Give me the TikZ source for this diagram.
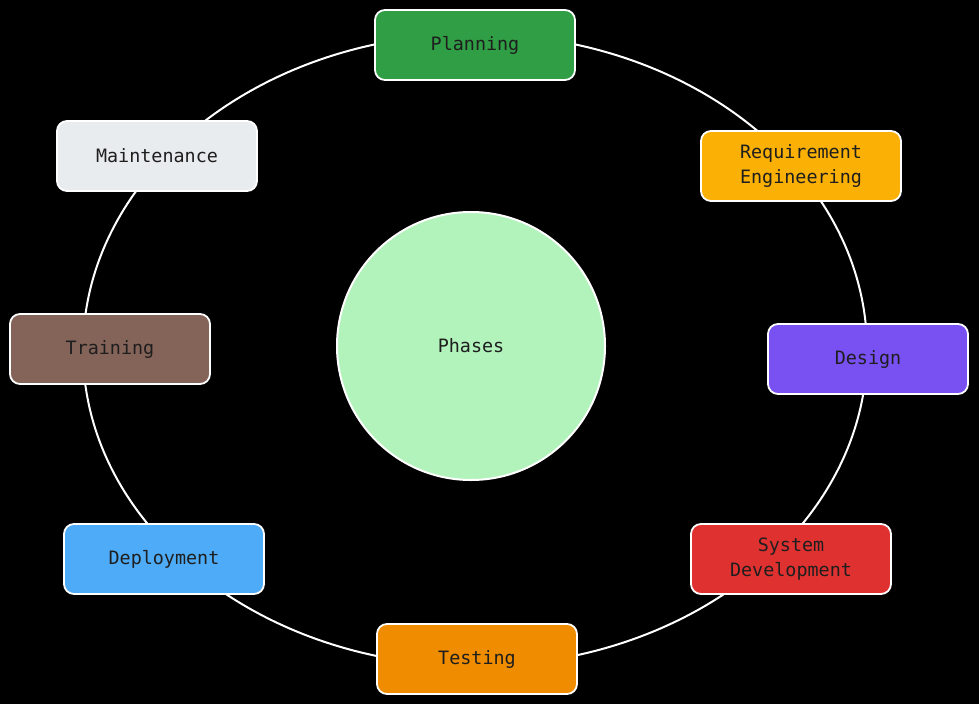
\documentclass[tikz,border=0pt]{standalone}
\usepackage{fontspec}
\setmonofont{DejaVu Sans Mono}
\definecolor{txt}{HTML}{1E1E1E}
\definecolor{cplan}{HTML}{2F9E44}
\definecolor{creq}{HTML}{FAB005}
\definecolor{cdes}{HTML}{7950F2}
\definecolor{csys}{HTML}{E03131}
\definecolor{ctest}{HTML}{F08C00}
\definecolor{cdep}{HTML}{4DABF7}
\definecolor{ctrain}{HTML}{846358}
\definecolor{cmaint}{HTML}{E9ECEF}
\definecolor{cphase}{HTML}{B2F2BB}
\tikzset{
  phasebox/.style={rectangle, rounded corners=10pt, draw=white, line width=1.8pt,
    minimum width=200pt, minimum height=70pt, align=center, text=txt,
    font=\ttfamily\fontsize{18.4}{25}\selectfont, inner sep=0pt},
  ring/.style={draw=white, line width=2pt},
}
\begin{document}
\begin{tikzpicture}[x=1pt,y=-1pt]
\fill[black] (0,0) rectangle (979,704);
\useasboundingbox (0,0) rectangle (979,704);
\coordinate (c) at (475,350);
\draw[ring] (c) ellipse [x radius=392pt, y radius=316pt];
\node[circle, fill=cphase, draw=white, line width=2pt, minimum size=268pt, text=txt,
  font=\ttfamily\fontsize{18.4}{25}\selectfont] (phases) at (471,346) {Phases};
\node[phasebox, fill=cplan] (plan) at (475,45) {Planning};
\node[phasebox, fill=creq] (req) at (801,166) {Requirement\\Engineering};
\node[phasebox, fill=cdes] (des) at (868,359) {Design};
\node[phasebox, fill=csys] (sys) at (791,559) {System\\Development};
\node[phasebox, fill=ctest] (test) at (477,659) {Testing};
\node[phasebox, fill=cdep] (dep) at (164,559) {Deployment};
\node[phasebox, fill=ctrain] (train) at (110,349) {Training};
\node[phasebox, fill=cmaint] (maint) at (157,156) {Maintenance};
\end{tikzpicture}
\end{document}
